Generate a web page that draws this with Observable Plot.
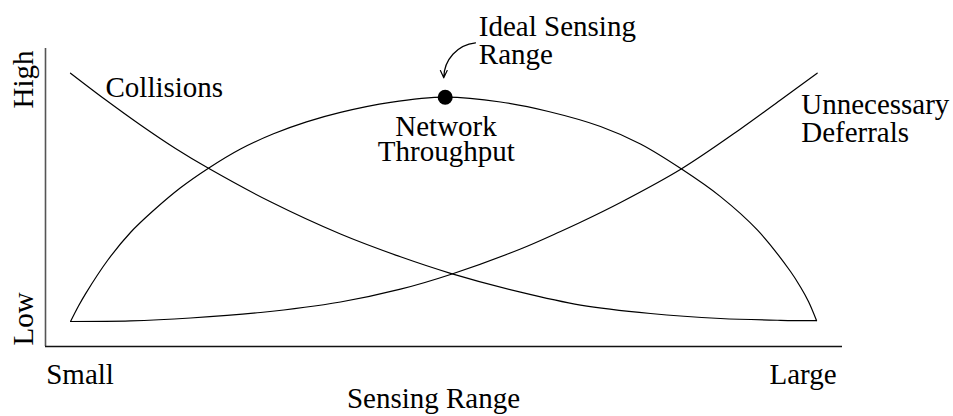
<!DOCTYPE html>
<html><head><meta charset="utf-8">
<script src="https://cdn.jsdelivr.net/npm/d3@7"></script>
<script src="https://cdn.jsdelivr.net/npm/@observablehq/plot@0.6"></script>
<style>html,body{margin:0;padding:0;background:#fff;} svg{display:block;}</style>
</head><body><div id="chart"></div>
<script>
// Sensing range (0 = Small, 100 = Large) vs. relative level (0 = Low, 100 = High)
const collisionsX = [3.14, 7.53, 11.92, 16.31, 20.45, 28.23, 37.01, 44.54, 50.82, 59.60, 67.13, 75.91, 84.69, 92.22, 96.74];
const collisionsY = [91.71, 82.79, 74.33, 66.44, 59.80, 48.56, 37.75, 30.10, 24.56, 18.22, 13.89, 11.07, 9.40, 8.79, 8.66];

const deferralsX = [3.14, 10.66, 18.19, 26.98, 37.01, 44.54, 50.82, 59.60, 64.62, 67.13, 72.15, 79.76, 87.20, 92.22, 96.82];
const deferralsY = [8.39, 8.59, 9.56, 11.41, 14.93, 19.23, 24.16, 32.72, 38.59, 41.68, 48.32, 59.56, 72.99, 82.72, 91.71];

const throughputX = [3.14, 4.14, 5.02, 7.78, 10.66, 13.55, 16.94, 20.45, 24.47, 28.61, 32.75, 37.01, 43.29, 50.15, 57.09, 63.11, 69.64, 74.65, 79.76, 84.69, 89.34, 93.48, 94.73, 95.73, 96.74];
const throughputY = [8.39, 13.59, 17.68, 28.86, 38.26, 45.64, 53.26, 59.83, 66.28, 71.38, 75.37, 78.56, 81.91, 83.66, 82.05, 78.86, 73.83, 67.95, 59.63, 50.30, 39.03, 25.17, 19.97, 15.10, 8.72];

const idealX = [50.15];
const idealY = [83.66];

const labelText = ["Collisions", "Network", "Throughput", "Ideal Sensing", "Range", "Unnecessary", "Deferrals", "Small", "Large", "Sensing Range", "High", "Low"];
const labelX    = [7.53, 50.25, 50.29, 54.37, 54.37, 94.82, 94.82, 0.09, 99.25, 48.68, -1.51, -1.51];
const labelY    = [83.66, 70.8, 62.18, 104.36, 94.87, 78.09, 68.79, -12.42, -12.75, -20.8, 99.33, 0.34];
const labelAnchor = ["start", "middle", "middle", "start", "start", "start", "start", "start", "end", "middle", "end", "start"];
const labelRotate = [0, 0, 0, 0, 0, 0, 0, 0, 0, 0, -90, -90];

const toRows = (xs, ys) => xs.map((x, i) => ({x, y: ys[i]}));
const collisions = toRows(collisionsX, collisionsY);
const deferrals = toRows(deferralsX, deferralsY);
const throughput = toRows(throughputX, throughputY);
const labels = labelText.map((t, i) => ({text: t, x: labelX[i], y: labelY[i], anchor: labelAnchor[i], rotate: labelRotate[i]}));

const font = "'Liberation Serif', 'Times New Roman', Times, serif";
const textMarks = ["start", "middle", "end"].map(a =>
  Plot.text(labels.filter(d => d.anchor === a), {
    x: "x", y: "y", text: "text", rotate: "rotate",
    textAnchor: a, lineAnchor: "bottom",
    fontFamily: font, fontSize: 29, fill: "black"
  })
);

const chart = Plot.plot({
  width: 953,
  height: 416,
  marginLeft: 45,
  marginRight: 111,
  marginTop: 48,
  marginBottom: 70,
  x: {domain: [0, 100], axis: null},
  y: {domain: [0, 100], axis: null},
  style: {background: "white", fontFamily: font, overflow: "visible"},
  marks: [
    Plot.ruleX([0], {stroke: "#555", strokeWidth: 1.6}),
    Plot.ruleY([0], {stroke: "#111", strokeWidth: 1.5}),
    Plot.line(collisions, {x: "x", y: "y", curve: "catmull-rom", stroke: "black", strokeWidth: 1.2}),
    Plot.line(deferrals, {x: "x", y: "y", curve: "catmull-rom", stroke: "black", strokeWidth: 1.2}),
    Plot.line(throughput, {x: "x", y: "y", curve: "catmull-rom", stroke: "black", strokeWidth: 1.2}),
    Plot.dot(idealX.map((x, i) => ({x, y: idealY[i]})), {x: "x", y: "y", r: 7.5, fill: "black", stroke: "none"}),
    Plot.arrow([{x1: 53.95, y1: 101.9, x2: 49.97, y2: 90.17}], {
      x1: "x1", y1: "y1", x2: "x2", y2: "y2",
      bend: -42, headLength: 10, headAngle: 50, stroke: "black", strokeWidth: 1.2
    }),
    ...textMarks
  ]
});
document.getElementById("chart").appendChild(chart);
</script>
</body></html>
